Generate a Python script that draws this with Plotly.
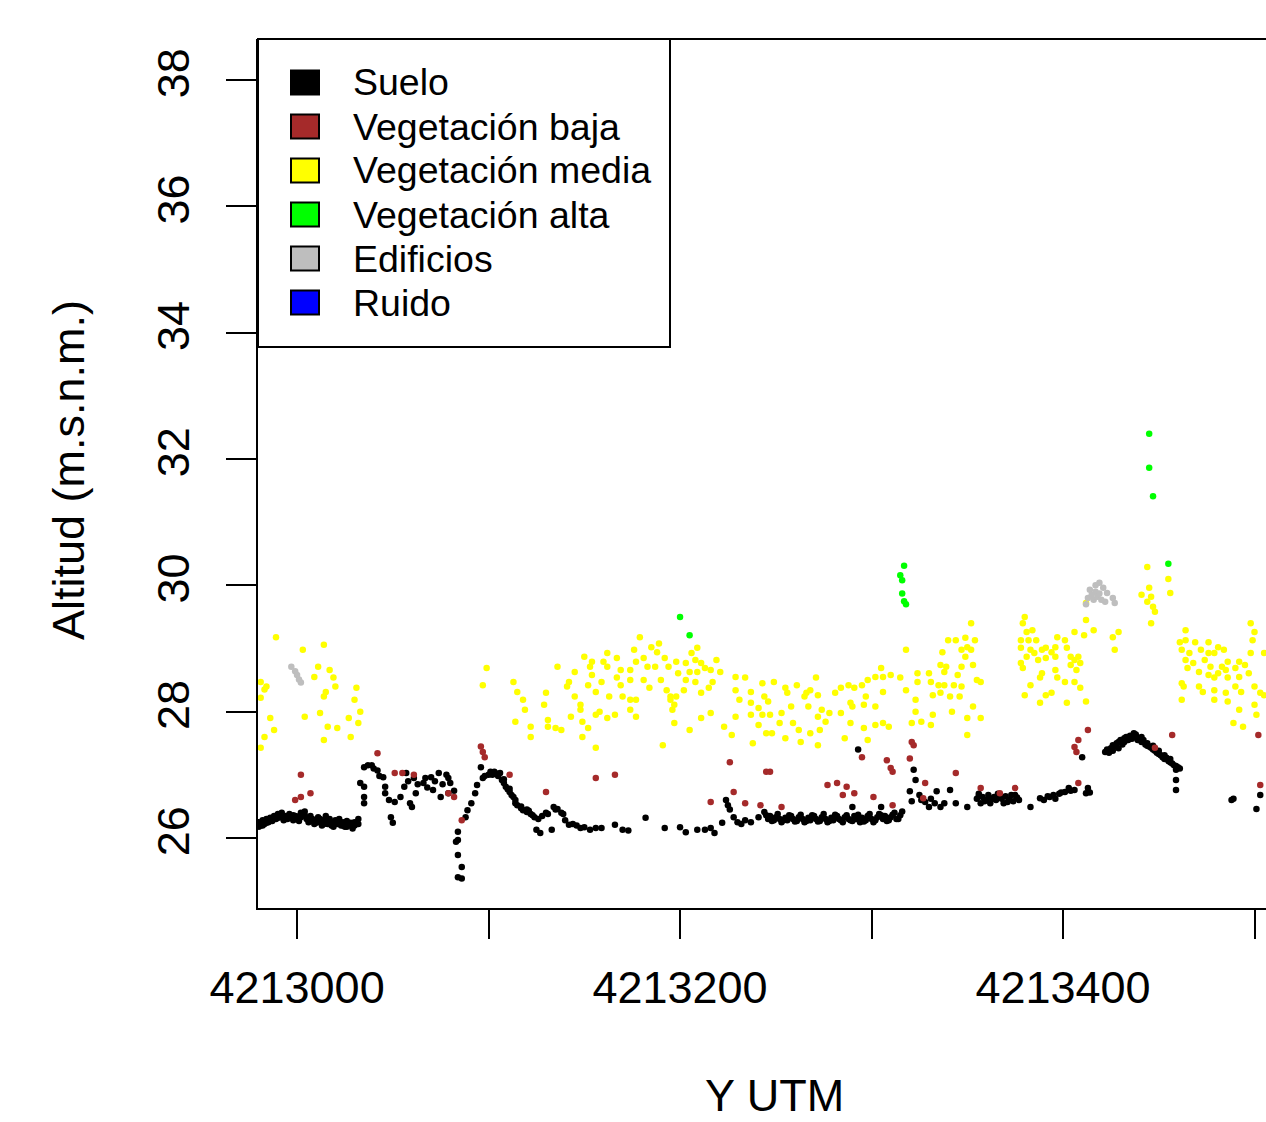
import plotly.graph_objects as go

# ---------------- data (Y UTM, altitude m.s.n.m.) ----------------
suelo_x = [
 4212980,4212981,4212982,4212983,4212984,4212985,4212986,4212987,4212988,4212989,4212990,4212991,4212992,4212993,4212994,4212995,4212996,4212997,4212998,4212999,
 4213000,4213001,4213002,4213003,4213004,4213005,4213006,4213007,4213008,4213009,4213010,4213011,4213012,4213013,4213014,4213015,4213016,4213017,4213018,4213019,
 4213020,4213021,4213022,4213023,4213024,4213025,4213026,4213027,4213028,4213029,4213030,4213031,4213032,
 4212980,4212982,4212984,4212986,4212988,4212990,4212992,4212994,4212996,4212998,4213000,4213002,4213004,4213006,4213008,4213010,4213012,4213014,4213016,4213018,
 4213020,4213022,4213024,4213026,4213028,4213030,4213032,
 4213033,4213035,4213035,4213035,4213035,4213037,4213039,4213040,4213042,4213043,4213045,4213046,4213046,4213048,4213049,4213050,4213051,4213054,4213056,4213057,
 4213058,4213059,4213060,4213061,4213062,4213063,4213066,4213067,4213068,4213070,4213071,4213072,4213074,4213075,4213076,4213078,4213079,4213079,4213080,4213082,
 4213083,4213084,4213084,4213084,4213084,4213086,4213086,
 4213088,4213089,4213091,4213093,4213094,4213096,4213097,4213098,4213100,4213101,4213103,4213104,4213106,4213107,4213108,4213109,4213110,4213111,4213112,4213113,
 4213114,4213115,4213117,4213118,4213120,4213121,4213122,4213124,4213125,4213126,4213127,4213128,4213130,4213131,4213133,4213134,4213135,4213136,4213138,4213139,
 4213140,4213142,4213144,4213146,4213148,4213150,4213153,4213156,
 4213102,4213105,4213108,4213111,4213114,4213117,4213120,4213123,
 4213159,4213166,4213170,4213173,4213182,4213192,4213200,4213203,4213209,4213213,4213216,4213218,4213222,4213224,4213225,4213226,4213228,4213230,4213232,4213234,
 4213237,4213241,4213244,
 4213246,4213247,4213249,4213250,4213252,4213253,4213255,4213256,4213258,4213259,4213261,4213262,4213264,4213265,4213267,4213268,4213270,4213271,4213273,4213274,
 4213276,4213277,4213279,4213280,4213282,4213283,4213285,4213286,4213288,4213289,4213290,4213291,4213292,4213293,4213294,4213295,4213297,4213298,4213300,4213301,
 4213303,4213304,4213305,4213306,4213307,4213309,4213310,4213312,4213313,4213315,4213316,
 4213245,4213248,4213251,4213254,4213257,4213260,4213263,4213266,4213269,4213272,4213275,4213278,4213281,4213284,4213287,4213290,4213293,4213296,4213299,4213302,
 4213305,4213308,4213311,4213314,
 4213320,4213321,4213322,4213323,4213325,4213326,4213328,4213330,4213331,4213333,4213334,4213336,4213338,4213341,4213344,4213350,
 4213355,4213356,4213357,4213358,4213360,4213361,4213362,4213364,4213365,4213366,4213368,4213369,4213370,4213372,4213373,4213374,4213376,4213377,4213383,4213388,
 4213390,4213392,4213393,4213395,4213396,4213398,4213399,4213401,4213403,4213404,4213406,4213410,4213412,4213413,4213414,
 4213356,4213359,4213363,4213367,4213371,4213375,
 4213422,4213424,4213425,4213426,4213427,4213428,4213429,4213430,4213431,4213432,4213433,4213434,4213435,4213436,4213437,4213438,4213439,4213440,4213441,4213442,
 4213443,4213444,4213445,4213446,4213447,4213448,4213449,4213450,4213451,4213452,4213453,4213454,4213455,4213456,4213457,4213458,4213459,4213459,4213459,4213460,
 4213461,
 4213423,4213426,4213429,4213432,4213435,4213438,4213441,4213444,4213447,4213450,4213453,4213456,4213459,
 4213488,4213489,4213501,4213503,
]
suelo_y = [
 26.25,26.20,26.28,26.22,26.30,26.25,26.32,26.27,26.35,26.30,26.38,26.33,26.40,26.28,26.35,26.30,26.38,26.32,26.28,26.35,
 26.30,26.27,26.33,26.38,26.42,26.30,26.25,26.35,26.30,26.22,26.28,26.33,26.25,26.20,26.27,26.35,26.22,26.30,26.25,26.18,
 26.28,26.22,26.30,26.20,26.25,26.18,26.27,26.22,26.20,26.15,26.25,26.22,26.30,
 26.18,26.20,26.24,26.27,26.30,26.32,26.34,26.30,26.33,26.36,26.34,26.40,26.36,26.32,26.27,26.24,26.30,26.22,26.28,26.20,
 26.22,26.25,26.20,26.18,26.24,26.20,26.22,
 26.87,27.12,26.81,26.65,26.55,27.15,27.15,27.10,27.07,26.98,26.96,26.81,26.71,26.60,26.33,26.24,26.57,26.65,26.81,27.03,
 26.90,26.55,26.49,26.95,26.71,26.85,26.87,26.95,26.80,26.96,26.76,26.90,27.03,26.65,26.85,27.00,26.71,26.95,26.87,26.75,
 25.94,26.10,25.97,25.73,25.38,25.54,25.36,
 26.33,26.44,26.55,26.71,26.84,27.12,26.95,26.98,27.00,27.05,27.05,27.02,27.03,26.92,26.87,26.81,26.77,26.73,26.68,26.65,
 26.55,26.52,26.47,26.44,26.41,26.43,26.38,26.33,26.13,26.30,26.08,26.35,26.40,26.38,26.13,26.49,26.45,26.46,26.40,26.38,
 26.28,26.21,26.22,26.20,26.16,26.17,26.13,26.16,
 27.00,26.98,26.93,26.78,26.60,26.50,26.45,26.36,
 26.16,26.21,26.13,26.12,26.32,26.16,26.17,26.09,26.13,26.13,26.16,26.08,26.24,26.60,26.52,26.45,26.33,26.25,26.22,26.28,
 26.25,26.33,26.41,
 26.30,26.35,26.28,26.33,26.30,26.25,26.32,26.28,26.35,26.30,26.27,26.33,26.30,26.25,26.32,26.28,26.35,26.30,26.27,26.33,
 26.30,26.25,26.32,26.28,26.35,26.30,26.25,26.33,26.30,26.28,26.49,26.35,26.30,27.40,26.25,26.32,26.28,26.35,26.30,26.25,
 26.33,26.38,26.49,26.30,26.35,26.28,26.33,26.40,26.30,26.36,26.42,
 26.36,26.27,26.38,26.28,26.36,26.26,26.37,26.27,26.36,26.26,26.38,26.27,26.37,26.28,26.36,26.27,26.37,26.26,26.38,26.28,
 26.36,26.27,26.37,26.30,
 26.74,26.58,27.08,26.92,26.68,26.60,26.57,26.49,26.62,26.55,26.74,26.49,26.55,26.76,26.55,26.49,
 26.62,26.70,26.55,26.65,26.60,26.68,26.55,26.65,26.60,26.70,26.62,26.55,26.66,26.60,26.68,26.58,26.64,26.60,26.49,26.63,
 26.60,26.66,26.65,26.68,26.62,26.70,26.72,26.73,26.79,26.75,26.76,27.28,26.71,26.79,26.72,
 26.66,26.58,26.62,26.66,26.57,26.68,
 27.36,27.35,27.42,27.38,27.45,27.50,27.42,27.55,27.48,27.52,27.60,27.55,27.62,27.57,27.66,27.60,27.55,27.58,27.52,27.55,
 27.48,27.50,27.45,27.43,27.40,27.38,27.35,27.33,27.31,27.28,27.25,27.27,27.22,27.20,27.18,27.15,27.08,26.92,26.76,27.12,
 27.10,
 27.40,27.47,27.52,27.58,27.57,27.64,27.60,27.46,27.46,27.38,27.31,27.25,27.14,
 26.60,26.62,26.46,26.68,
]

veg_baja_x = [
 4213002,4213007,4213002,4212999,4213042,4213051,4213055,4213061,4213096,4213097,4213098,4213111,4213130,4213082,4213079,4213086,
 4213156,4213166,4213226,4213245,4213228,4213216,4213234,4213242,4213253,4213247,4213277,4213282,4213287,4213285,4213291,4213301,
 4213295,4213308,4213310,4213311,4213321,4213322,4213320,4213328,4213327,4213311,4213344,4213357,4213375,4213367,4213408,4213408,
 4213406,4213407,4213413,4213457,4213448,4213502,4213503,
]
veg_baja_y = [
 27.00,26.71,26.65,26.60,27.34,27.03,27.03,27.00,27.45,27.36,27.28,27.00,26.73,26.65,26.71,26.28,
 26.95,27.00,27.20,27.05,26.73,26.57,26.55,26.52,26.49,27.05,26.84,26.87,26.81,26.68,26.71,26.65,
 27.28,27.23,27.11,27.05,27.52,27.47,27.26,26.87,26.63,26.52,27.03,26.79,26.79,26.71,26.87,27.55,
 27.44,27.36,27.71,27.63,27.43,27.63,26.84,
]

veg_media_x = [
 4212989,4213014,4213003,4213011,4213017,4213009,4213019,4213020,4212981,4212984,4212983,4212981,4213015,4213014,4213031,4213030,4213033,4213027,4213032,4213012,
 4213004,4212986,4212988,4213016,4213021,4212983,4213028,4213014,4212981,
 4213099,4213097,4213113,4213115,4213118,4213119,4213114,4213122,4213122,4213130,4213129,4213131,4213131,4213135,4213138,4213136,4213145,4213142,4213141,4213145,
 4213148,4213148,4213143,4213149,4213152,4213149,4213150,4213154,4213153,4213154,4213152,4213156,4213156,4213156,
 4213179,4213162,4213160,4213162,4213167,4213169,4213174,4213176,4213177,4213181,4213183,4213185,4213188,4213189,4213187,4213192,4213194,4213198,4213199,4213203,
 4213206,4213209,4213208,4213211,4213205,4213209,4213213,4213216,4213219,4213221,4213159,4213167,4213169,4213174,4213181,4213184,4213190,4213193,4213195,4213198,
 4213202,4213203,4213208,4213211,4213217,4213215,4213163,4213170,4213174,4213177,4213174,4213158,4213166,4213162,4213177,4213195,4213197,4213196,4213197,4213205,
 4213211,4213216,4213191,4213223,4213227,4213229,4213234,4213229,4213237,4213231,4213237,4213241,4213229,4213237,4213243,4213241,4213238,4213245,4213243,4213244,
 4213318,4213249,4213255,4213261,4213256,4213266,4213268,4213272,4213271,4213281,4213284,4213288,4213291,4213295,4213298,4213302,4213305,4213306,4213310,4213315,
 4213297,4213306,4213324,4213330,4213324,4213331,4213318,4213332,4213323,4213246,4213258,4213265,4213267,4213274,4213278,4213284,4213289,4213290,4213296,4213302,
 4213247,4213253,4213252,4213259,4213262,4213248,4213272,4213276,4213268,4213273,4213289,4213296,4213302,4213306,4213309,4213286,4213298,4213255,4213263,4213272,
 4213321,4213326,4213331,4213323,4213332,
 4213352,4213340,4213344,4213349,4213354,4213350,4213337,4213347,4213352,4213349,4213336,4213339,4213347,4213353,4213338,4213345,4213355,4213357,4213335,4213338,
 4213343,4213347,4213336,4213341,4213346,4213353,4213342,4213350,4213357,4213350,
 4213380,4213379,4213381,4213384,4213378,4213382,4213386,4213378,4213383,4213385,4213389,4213391,4213394,4213396,4213397,4213401,4213402,4213396,4213391,4213387,
 4213381,4213378,4213379,4213389,4213388,4213396,4213397,4213401,4213404,4213406,4213404,4213408,4213409,4213407,4213406,4213383,4213380,4213391,4213394,4213388,
 4213402,4213412,4213409,4213412,4213406,4213411,4213416,4213412,
 4213444,4213455,4213456,4213445,4213441,4213446,4213444,4213447,4213448,4213446,4213429,4213426,4213427,
 4213464,4213498,4213500,4213461,4213464,4213469,4213476,4213481,4213484,4213499,4213462,4213466,4213472,4213476,4213479,4213486,4213492,4213498,4213505,4213464,
 4213468,4213474,4213477,4213483,4213465,4213471,4213476,4213481,4213485,4213490,4213495,4213497,4213492,4213486,4213479,4213462,4213463,4213471,4213473,4213479,
 4213490,4213493,4213500,4213503,4213462,4213479,4213485,4213486,4213492,4213500,4213501,4213489,4213494,4213505,
]
veg_media_y = [
 29.18,29.06,28.98,28.71,28.66,28.55,28.54,28.40,28.47,28.40,28.35,28.22,28.31,28.24,28.38,28.19,28.00,27.90,27.82,27.98,
 27.92,27.90,27.71,27.76,27.74,27.60,27.60,27.55,27.43,
 28.69,28.42,28.47,28.31,28.19,28.03,27.84,27.76,27.60,28.30,28.11,27.87,27.76,27.74,27.71,28.71,28.63,28.47,28.40,28.24,
 28.11,28.03,27.92,27.84,27.74,27.60,28.87,28.79,28.71,28.58,28.42,28.31,27.95,27.43,
 29.18,28.93,28.79,28.71,28.85,28.66,28.66,28.98,28.79,28.85,28.71,29.02,28.94,29.08,28.71,28.85,28.71,28.79,28.61,28.77,
 28.93,29.01,28.82,28.77,28.63,28.63,28.69,28.66,28.82,28.63,28.47,28.54,28.42,28.50,28.50,28.38,28.50,28.34,28.24,28.24,
 28.34,28.50,28.47,28.30,28.47,28.38,28.24,28.24,28.19,28.19,28.03,28.00,27.95,27.90,27.92,28.19,28.11,28.03,27.82,27.71,
 27.90,27.98,27.47,27.76,27.63,28.55,28.54,28.34,28.31,28.19,28.14,28.06,27.92,27.95,27.95,27.79,27.50,27.66,28.45,28.24,
 28.98,28.47,28.38,28.42,28.30,28.30,28.34,28.26,28.54,28.30,28.38,28.42,28.38,28.42,28.50,28.55,28.69,28.55,28.58,28.54,
 28.24,28.31,28.61,28.61,28.47,28.47,28.34,28.26,28.19,28.16,28.08,28.24,28.08,28.03,27.98,27.98,28.14,28.08,28.11,28.08,
 27.95,27.98,27.82,27.82,27.71,27.66,27.92,27.84,27.66,27.71,27.82,27.74,27.79,27.82,27.76,27.58,27.55,27.58,27.52,27.47,
 27.82,27.84,27.79,28.00,27.95,
 29.40,29.13,29.13,29.17,29.13,29.02,28.94,28.98,28.98,28.87,28.74,28.71,28.71,28.74,28.63,28.58,28.50,28.47,28.42,28.42,
 28.42,28.40,28.30,28.24,28.24,28.08,28.00,27.90,27.90,27.63,
 29.50,29.40,29.26,29.29,29.13,29.13,29.13,29.01,28.98,28.93,28.98,29.01,28.94,29.02,29.18,29.13,29.01,28.87,28.85,28.82,
 28.87,28.77,28.69,28.61,28.54,28.66,28.54,28.47,28.74,28.82,28.87,28.87,28.77,28.66,28.47,28.42,28.26,28.26,28.30,28.14,
 28.14,28.16,28.38,29.45,29.26,29.21,29.29,29.72,
 30.29,30.10,29.88,29.96,29.85,29.82,29.74,29.66,29.58,29.40,29.26,29.18,28.98,
 29.29,29.40,29.26,29.10,29.13,29.10,29.10,29.02,28.98,29.13,28.98,28.93,28.98,28.93,28.93,28.79,28.79,28.93,28.93,28.82,
 28.77,28.82,28.71,28.71,28.69,28.63,28.58,28.61,28.66,28.69,28.74,28.61,28.55,28.54,28.54,28.45,28.40,28.40,28.31,28.34,
 28.40,28.31,28.40,28.30,28.19,28.19,28.30,28.16,28.03,28.11,27.95,27.82,27.76,28.26,
]

veg_alta_x = [4213200,4213205,4213317,4213315,4213316,4213316,4213317,4213318,4213445,4213445,4213447,4213455]
veg_alta_y = [29.50,29.21,30.31,30.16,30.08,29.87,29.75,29.70,32.40,31.86,31.41,30.34]

edificios_x = [4212997,4212999,4213000,4213001,4213002,
               4213414,4213417,4213419,4213421,4213423,4213426,4213427,4213413,4213416,4213418,4213420,4213422,4213412,4213417,4213419,4213415]
edificios_y = [28.71,28.64,28.58,28.51,28.46,
               29.93,30.00,30.04,29.96,29.88,29.80,29.72,29.80,29.77,29.82,29.77,29.74,29.70,29.90,29.87,29.85]

ruido_x = []
ruido_y = []

legend_labels = ["Suelo", "Vegetación baja", "Vegetación media", "Vegetación alta", "Edificios", "Ruido"]
legend_colors = ["#000000", "#A52A2A", "#FFFF00", "#00FF00", "#BEBEBE", "#0000FF"]

x_tick_vals = [4213000, 4213100, 4213200, 4213300, 4213400, 4213500]
x_tick_text = ["4213000", "", "4213200", "", "4213400", ""]
y_tick_vals = [26, 28, 30, 32, 34, 36, 38]

# ---------------- figure ----------------
W, H = 1266, 1122
ML, MR, MT, MB = 258, 0, 39, 214
PW, PH = W - ML - MR, H - MT - MB
FONT = "Liberation Sans, Arial, Helvetica, sans-serif"


def pxx(xp):
    return (xp - ML) / PW


def pxy(yp):
    return (H - MB - yp) / PH


fig = go.Figure()
series = [
    (veg_media_x, veg_media_y, legend_colors[2], legend_labels[2]),
    (edificios_x, edificios_y, legend_colors[4], legend_labels[4]),
    (veg_alta_x, veg_alta_y, legend_colors[3], legend_labels[3]),
    (suelo_x, suelo_y, legend_colors[0], legend_labels[0]),
    (veg_baja_x, veg_baja_y, legend_colors[1], legend_labels[1]),
    (ruido_x, ruido_y, legend_colors[5], legend_labels[5]),
]
for xs, ys, col, nm in series:
    fig.add_trace(go.Scatter(x=xs, y=ys, mode="markers", name=nm, showlegend=False,
                             marker=dict(color=col, size=6.5, symbol="circle", line=dict(width=0))))

shapes = []
annotations = []
# top border of the plot box
shapes.append(dict(type="line", xref="paper", yref="paper", x0=0, x1=1, y0=1, y1=1,
                   line=dict(color="black", width=2)))
# legend box
shapes.append(dict(type="rect", xref="paper", yref="paper", x0=pxx(258), x1=pxx(670),
                   y0=pxy(347), y1=pxy(39), line=dict(color="black", width=2), fillcolor="white", layer="above"))
row_y = [82.5, 126.5, 170.5, 214.5, 258.5, 302.5]
for lab, col, ry in zip(legend_labels, legend_colors, row_y):
    shapes.append(dict(type="rect", xref="paper", yref="paper", x0=pxx(291), x1=pxx(319),
                       y0=pxy(ry + 12), y1=pxy(ry - 12), fillcolor=col,
                       line=dict(color="black", width=2), layer="above"))
    annotations.append(dict(xref="paper", yref="paper", x=pxx(351), y=pxy(ry), text=lab,
                            showarrow=False, xanchor="left", yanchor="middle",
                            font=dict(size=37.5, color="black", family=FONT)))
# axis titles
annotations.append(dict(xref="paper", yref="paper", x=pxx(774), y=pxy(1095), text="Y UTM",
                        showarrow=False, xanchor="center", yanchor="middle",
                        font=dict(size=45, color="black", family=FONT)))
annotations.append(dict(xref="paper", yref="paper", x=pxx(68), y=pxy(470), text="Altitud (m.s.n.m.)",
                        showarrow=False, xanchor="center", yanchor="middle", textangle=-90,
                        font=dict(size=45, color="black", family=FONT)))

fig.update_layout(
    width=W, height=H, autosize=False,
    margin=dict(l=ML, r=MR, t=MT, b=MB, pad=0),
    paper_bgcolor="white", plot_bgcolor="white",
    font=dict(family=FONT, color="black"),
    shapes=shapes, annotations=annotations, showlegend=False,
    xaxis=dict(range=[4212979.6, 4213506.0], tickmode="array", tickvals=x_tick_vals, ticktext=x_tick_text,
               ticks="outside", ticklen=29, tickwidth=2, tickcolor="black",
               showline=True, linewidth=2, linecolor="black", mirror=False,
               showgrid=False, zeroline=False, tickfont=dict(size=45, family=FONT, color="black"),
               ticklabelstandoff=10),
    yaxis=dict(range=[24.892, 38.649], tickmode="array", tickvals=y_tick_vals,
               ticks="outside", ticklen=30, tickwidth=2, tickcolor="black", tickangle=-90,
               showline=True, linewidth=2, linecolor="black", mirror=False,
               showgrid=False, zeroline=False, tickfont=dict(size=45, family=FONT, color="black"),
               ticklabelstandoff=19),
)

fig.write_html("out.html", config={"displayModeBar": False},
               post_script="document.body.style.margin='0';")
